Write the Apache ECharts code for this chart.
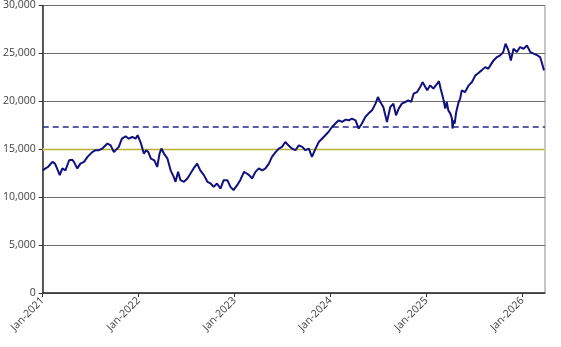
<!DOCTYPE html>
<html><head><meta charset="utf-8">
<script src="https://cdn.jsdelivr.net/npm/echarts@6/dist/echarts.min.js"></script>
<style>html,body{margin:0;padding:0;background:#fff}#c{width:561px;height:347px}</style>
</head><body><div id="c"></div>
<script>
const dates = [
"2021-01-01","2021-01-12","2021-01-21","2021-02-07","2021-02-16","2021-02-26","2021-03-05","2021-03-15","2021-03-27","2021-04-10",
"2021-04-22","2021-04-28","2021-05-11","2021-05-23","2021-06-06","2021-06-19","2021-07-07","2021-07-20","2021-08-02","2021-08-15",
"2021-09-04","2021-09-16","2021-09-28","2021-10-05","2021-10-17","2021-10-29","2021-11-12","2021-11-24","2021-12-07","2021-12-20",
"2021-12-28","2022-01-06","2022-01-10","2022-01-21","2022-01-30","2022-02-07","2022-02-16","2022-02-28","2022-03-11","2022-03-20",
"2022-03-27","2022-04-06","2022-04-19","2022-05-01","2022-05-13","2022-05-20","2022-05-30","2022-06-08","2022-06-21","2022-07-04",
"2022-07-16","2022-07-28","2022-08-11","2022-08-23","2022-09-06","2022-09-19","2022-10-01","2022-10-13","2022-10-26","2022-11-08",
"2022-11-20","2022-12-04","2022-12-16","2022-12-28","2023-01-11","2023-01-23","2023-02-06","2023-02-16","2023-02-24","2023-03-07",
"2023-03-20","2023-04-02","2023-04-15","2023-04-27","2023-05-10","2023-05-22","2023-06-05","2023-06-17","2023-06-29","2023-07-12",
"2023-07-24","2023-08-07","2023-08-20","2023-09-02","2023-09-15","2023-09-27","2023-10-10","2023-10-22","2023-11-05","2023-11-17",
"2023-11-29","2023-12-12","2023-12-24","2024-01-07","2024-01-20","2024-02-02","2024-02-14","2024-02-27","2024-03-10","2024-03-22",
"2024-04-05","2024-04-17","2024-04-29","2024-05-12","2024-05-24","2024-06-07","2024-06-20","2024-06-29","2024-07-08","2024-07-20",
"2024-08-03","2024-08-16","2024-08-28","2024-09-07","2024-09-17","2024-09-29","2024-10-12","2024-10-24","2024-11-04","2024-11-13",
"2024-11-26","2024-12-08","2024-12-17","2024-12-28","2025-01-04","2025-01-16","2025-01-28","2025-02-11","2025-02-17","2025-02-23",
"2025-03-01","2025-03-06","2025-03-12","2025-03-18","2025-03-24","2025-04-01","2025-04-07","2025-04-09","2025-04-13","2025-04-17",
"2025-04-23","2025-05-02","2025-05-08","2025-05-14","2025-05-27","2025-06-10","2025-06-22","2025-07-05","2025-07-17","2025-07-29",
"2025-08-12","2025-08-24","2025-09-01","2025-09-13","2025-09-26","2025-10-08","2025-10-20","2025-10-29","2025-11-09","2025-11-18",
"2025-11-28","2025-12-11","2025-12-23","2026-01-06","2026-01-19","2026-02-01","2026-02-13","2026-02-26","2026-03-08","2026-03-14",
"2026-03-23"
];
const values = [
12800,13000,13150,13680,13500,12800,12300,13000,12800,13850,
13900,13680,13000,13500,13680,14200,14700,14900,14900,15070,
15600,15400,14700,14550,15250,16100,16350,16100,16280,16100,
16460,15900,15600,14550,14900,14700,14030,13850,13150,14550,
15070,14550,14030,12800,12120,11600,12640,11770,11600,11950,
12470,13000,13500,12800,12300,11600,11430,11070,11430,10900,
11770,11770,11070,10730,11250,11770,12640,12470,12300,11950,
12640,13000,12800,13000,13500,14200,14700,15070,15250,15760,
15400,15070,14900,15400,15250,14900,15070,14200,15070,15760,
16100,16460,16800,17320,17680,18020,17850,18090,18020,18200,
18020,17160,17680,18370,18720,19060,19760,20450,19930,19410,
17850,19410,19760,18540,19240,19760,19930,20100,19930,20800,
20970,21490,22010,21490,21150,21670,21320,21840,22110,21320,
20630,20100,19240,19930,19060,18720,18200,17160,18020,17680,
18890,19930,20280,21150,20970,21670,22010,22710,22950,23230,
23570,23400,23750,24270,24620,24790,25140,26010,25310,24270,
25490,25140,25660,25490,25840,25140,24970,24790,24620,24100,
23230
];
const refNavy = 17350;
const refOlive = 15000;
const yTicks = [0, 5000, 10000, 15000, 20000, 25000, 30000];
const xTickLabels = ["Jan-2021","Jan-2022","Jan-2023","Jan-2024","Jan-2025","Jan-2026"];
const xStart = "2021-01-01";
const xEnd = "2026-03-27";

function monthOffset(s) {
  const [y, m, d] = s.split("-").map(Number);
  const dim = new Date(y, m, 0).getDate();
  return (y - 2021) * 12 + (m - 1) + (d - 1) / dim;
}
const seriesData = dates.map((d, i) => [monthOffset(d), values[i]]);
const tickPos = xTickLabels.map((_, i) => i * 12);

const chart = echarts.init(document.getElementById('c'), null, {renderer: 'canvas'});
chart.setOption({
  animation: false,
  grid: {left: 42, right: 16, top: 5, bottom: 54, show: true, borderColor: '#8c8c8c', borderWidth: 1},
  xAxis: {
    type: 'value', min: monthOffset(xStart), max: monthOffset(xEnd),
    splitLine: {show: false},
    axisLine: {lineStyle: {color: '#333', width: 1.5}},
    axisTick: {show: true, length: 4, customValues: tickPos, lineStyle: {color: '#333'}},
    axisLabel: {
      customValues: tickPos, rotate: 45, margin: 6,
      color: '#404040', fontFamily: 'Open Sans', fontSize: 10.5,
      formatter: v => xTickLabels[Math.round(v / 12)] || ''
    }
  },
  yAxis: {
    type: 'value', min: yTicks[0], max: yTicks[yTicks.length - 1], interval: 5000,
    axisLine: {show: true, lineStyle: {color: '#333', width: 1.5}},
    axisTick: {show: true, length: 4, lineStyle: {color: '#333'}},
    splitLine: {lineStyle: {color: '#6e6e6e', width: 1}},
    axisLabel: {color: '#404040', fontFamily: 'Open Sans', fontSize: 10.5, margin: 7,
      formatter: v => v.toLocaleString('en-US')}
  },
  series: [{
    type: 'line', data: seriesData, showSymbol: false, smooth: false, z: 3,
    lineStyle: {color: '#10107f', width: 2},
    markLine: {
      silent: true, symbol: 'none', label: {show: false}, z: 2,
      data: [
        {yAxis: refOlive, lineStyle: {color: '#ffffff', width: 2.5, type: 'solid'}},
        {yAxis: refOlive, lineStyle: {color: '#b4b430', width: 1.3, type: 'solid'}},
        {yAxis: refNavy, lineStyle: {color: '#2a2a8c', width: 1.6, type: [6, 4]}}
      ]
    }
  }]
});
</script></body></html>
